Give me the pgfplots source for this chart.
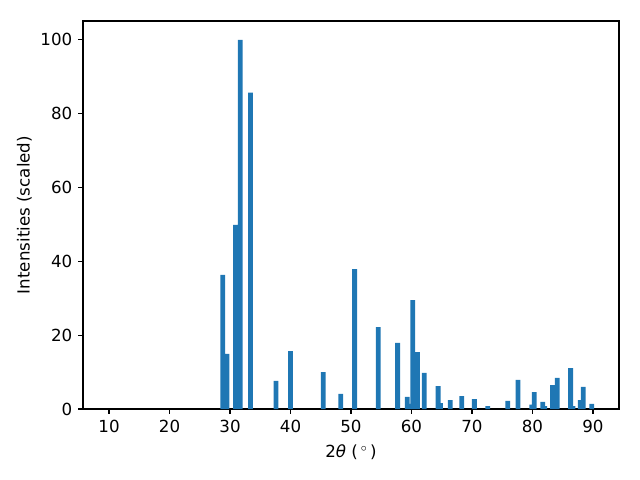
\documentclass[border=0pt]{standalone}
\usepackage{pgfplots}
\pgfplotsset{compat=1.18}
\usepackage{fontspec}
\setmainfont{DejaVu Sans}
\definecolor{mplblue}{HTML}{1F77B4}
\begin{document}
\fontsize{12}{14}\selectfont
\begin{tikzpicture}
\path[use as bounding box] (-59.76pt,-51.12pt) rectangle (401.04pt,294.48pt);
\begin{axis}[
  at={(0pt,0pt)}, anchor=south west,
  scale only axis, width=385.92pt, height=279.36pt,
  xmin=5.7, xmax=94.3, ymin=0, ymax=105.1,
  xtick={10,20,30,40,50,60,70,80,90},
  ytick={0,20,40,60,80,100},
  tick align=outside, major tick length=3.5pt,
  tick style={black, line width=0.8pt},
  axis line style={line width=0.8pt},
  xtick pos=bottom, ytick pos=left,
  /pgf/number format/assume math mode=true,
  ticklabel style={font=\fontsize{12}{14}\selectfont},
  label style={font=\fontsize{12}{14}\selectfont},
  xlabel={2\textit{θ} (\,$^\circ$\,)},
  ylabel={Intensities (scaled)},
  ylabel shift=-2pt, xlabel shift=1pt,
  ybar, bar width=0.8, bar shift=0pt,
]
\addplot[fill=mplblue, draw=none] coordinates {
(28.8,36.3) (29.5,14.9) (30.9,49.9) (31.7,100) (33.4,85.7)
(37.6,7.6) (40.0,15.7) (45.4,10.0) (48.3,4.1) (50.6,37.9)
(54.5,22.2) (57.7,17.9) (59.3,3.3) (59.8,1.4) (60.2,29.5)
(61.0,15.4) (62.1,9.8) (64.4,6.2) (64.8,1.6) (66.4,2.4)
(68.3,3.5) (70.4,2.7) (72.6,0.8) (75.9,2.2) (77.6,7.9)
(79.9,1.2) (80.3,4.6) (81.7,1.9) (82.0,0.8) (83.3,6.5)
(84.1,8.4) (86.3,11.1) (86.7,0.8) (87.9,2.4) (88.4,6.0)
(89.8,1.4)
};
\end{axis}
\end{tikzpicture}
\end{document}
